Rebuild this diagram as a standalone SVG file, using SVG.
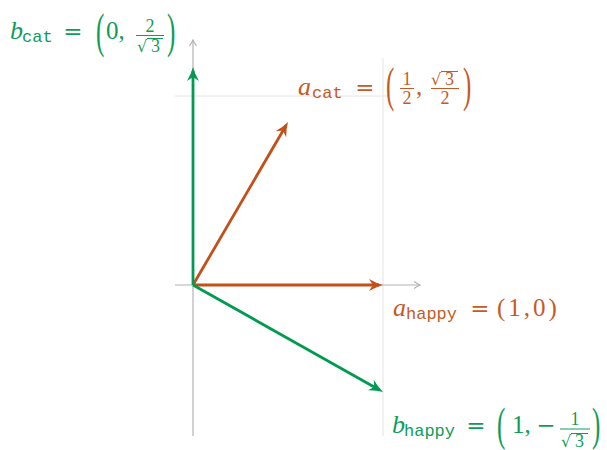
<svg xmlns="http://www.w3.org/2000/svg" width="607" height="450" viewBox="0 0 607 450">
<style>
.ax{stroke:#b4b4b4;stroke-width:1.2;fill:none}
.grid{stroke:#e4e4e4;stroke-width:1;fill:none}
.vo{stroke:#c1501a;stroke-width:2.8;fill:none}
.vg{stroke:#009a50;stroke-width:2.8;fill:none}
text{font-family:"Liberation Serif","Times New Roman",serif}
.o{fill:#c65a26}
.g{fill:#0f9c58}
.it{font-style:italic;font-size:26px}
.sub{font-family:"Liberation Mono","Courier New",monospace;font-size:17px}
.rm{font-size:25px}
.eq{font-family:"DejaVu Serif",serif;font-size:23px}
.fr{font-size:18px}
.rad{font-family:"DejaVu Serif",serif;font-size:16px}
.bo{stroke:#c65a26;stroke-width:1}
.bg{stroke:#0f9c58;stroke-width:1}
</style>
<defs>
<marker id="hO" markerUnits="userSpaceOnUse" markerWidth="30" markerHeight="30" refX="0" refY="0" orient="auto" overflow="visible">
<path d="M4,0 Q-3,-1.8 -10,-6 L-6,0 L-10,6 Q-3,1.8 4,0 Z" fill="#c1501a"/>
</marker>
<marker id="hG" markerUnits="userSpaceOnUse" markerWidth="30" markerHeight="30" refX="0" refY="0" orient="auto" overflow="visible">
<path d="M4,0 Q-3,-1.8 -10,-6 L-6,0 L-10,6 Q-3,1.8 4,0 Z" fill="#009a50"/>
</marker>
<marker id="hA" markerUnits="userSpaceOnUse" markerWidth="20" markerHeight="20" refX="0" refY="0" orient="auto" overflow="visible">
<path d="M-6,-3.5 Q-2,-0.8 0,0 Q-2,0.8 -6,3.5" fill="none" stroke="#b4b4b4" stroke-width="1.2"/>
</marker>
</defs>

<g id="grid">
<line class="grid" x1="175" y1="96" x2="390" y2="96"/>
<line class="grid" x1="383" y1="58" x2="383" y2="436"/>
</g>
<g id="axes">
<line class="ax" x1="175" y1="285" x2="420" y2="285" marker-end="url(#hA)"/>
<line class="ax" x1="193" y1="436" x2="193" y2="40" marker-end="url(#hA)"/>
</g>

<g id="connectors">
<line id="v-a-happy" class="vo" x1="193" y1="285" x2="379" y2="285" marker-end="url(#hO)"/>
<line id="v-a-cat" class="vo" x1="193" y1="285" x2="286" y2="125.5" marker-end="url(#hO)"/>
<line id="v-b-cat" class="vg" x1="193" y1="285" x2="193" y2="71" marker-end="url(#hG)"/>
<line id="v-b-happy" class="vg" x1="193" y1="285" x2="379.5" y2="390" marker-end="url(#hG)"/>
</g>

<g id="label-b-cat" class="g">
<text class="it" x="10" y="39">b</text>
<text class="sub" x="22" y="42">cat</text>
<text class="eq" x="73" y="39" text-anchor="middle">=</text>
<text class="rm" transform="translate(96,46.6) scale(1,1.95)">(</text>
<text class="rm" x="106" y="39">0,</text>
<text class="fr" x="150" y="32" text-anchor="middle">2</text>
<line class="bg" x1="136" y1="35.5" x2="164" y2="35.5"/>
<text class="rad" x="137" y="52">√</text>
<text class="fr" x="151" y="52">3</text>
<line class="bg" x1="147" y1="38.5" x2="163" y2="38.5"/>
<text class="rm" transform="translate(167,46.6) scale(1,1.95)">)</text>
</g>

<g id="label-a-cat" class="o">
<text class="it" x="298" y="95">a</text>
<text class="sub" x="312" y="98">cat</text>
<text class="eq" x="365" y="95" text-anchor="middle">=</text>
<text class="rm" transform="translate(386,100.6) scale(1,1.95)">(</text>
<text class="fr" x="407" y="85" text-anchor="middle">1</text>
<line class="bo" x1="400" y1="88.5" x2="414" y2="88.5"/>
<text class="fr" x="407" y="104" text-anchor="middle">2</text>
<text class="rm" x="416" y="95">,</text>
<text class="rad" x="431" y="85">√</text>
<text class="fr" x="445" y="85">3</text>
<line class="bo" x1="441" y1="71.5" x2="458" y2="71.5"/>
<line class="bo" x1="431" y1="88.5" x2="459" y2="88.5"/>
<text class="fr" x="445" y="104" text-anchor="middle">2</text>
<text class="rm" transform="translate(463,100.6) scale(1,1.95)">)</text>
</g>

<g id="label-a-happy" class="o">
<text class="it" x="393" y="316">a</text>
<text class="sub" x="406" y="319">happy</text>
<text class="eq" x="480" y="316" text-anchor="middle">=</text>
<text class="rm" x="497" y="316" letter-spacing="3">(1,0)</text>
</g>

<g id="label-b-happy" class="g">
<text class="it" x="392" y="433">b</text>
<text class="sub" x="404" y="436">happy</text>
<text class="eq" x="476" y="433" text-anchor="middle">=</text>
<text class="rm" transform="translate(497,440) scale(1,1.88)">(</text>
<text class="rm" x="512" y="433">1,</text>
<text class="eq" x="546" y="433" text-anchor="middle">−</text>
<text class="fr" x="575" y="425" text-anchor="middle">1</text>
<line class="bg" x1="560" y1="429" x2="590" y2="429"/>
<text class="rad" x="561" y="447">√</text>
<text class="fr" x="575" y="447">3</text>
<line class="bg" x1="571" y1="433.5" x2="588" y2="433.5"/>
<text class="rm" transform="translate(592,440) scale(1,1.88)">)</text>
</g>
</svg>
